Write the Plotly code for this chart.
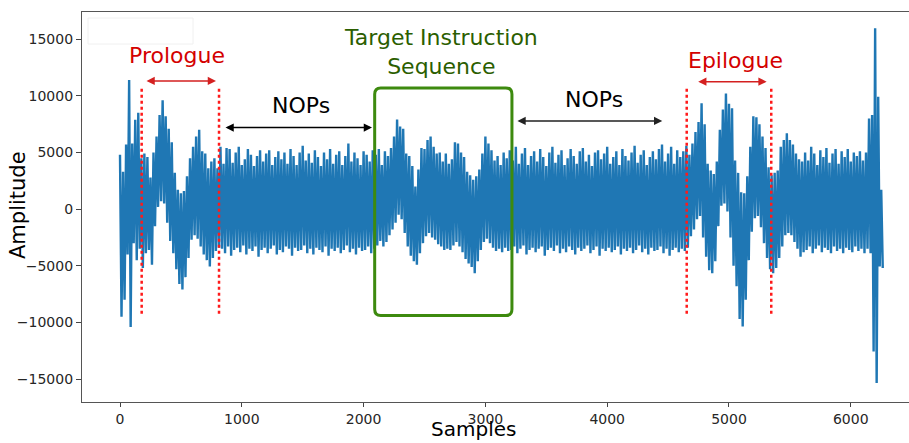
import plotly.graph_objects as go

# ---------------- data ----------------
# The trace is stored as per-bin envelope values, 25 samples per bin:
# "hi" is the upper extreme at the start of the bin, "lo" the lower extreme half a bin later.
BIN = 25

start_hi = [4800, 3300, 5700, 11400, 5800, 7900, 8500, 4500]
start_lo = [-9500, -8000, -4000, -10400, -3000, -4500, -3500, -5200]

prologue_hi = [4900, 4600, 2800, 5000, 6400, 8300, 9600, 8200, 7100, 5900, 3200, 1700, 1400,
               1600, 2900, 4500, 5500, 6400, 7000, 5100, 4900, 3600, 4200, 4500, 3600]
prologue_lo = [-3900, -3600, -4900, -1500, 200, 700, 500, -1200, -2800, -3900, -5300, -6600, -7100,
               -6000, -4300, -2700, -2300, -2600, -3300, -4000, -4500, -5060, -4300, -3700, -3400]

nops1_hi = [5500, 4000, 5400, 5300, 4100, 5000, 5500, 3900, 4400, 5300,
            4800, 3800, 4700, 5200, 4200, 4900, 5200, 3900, 4600, 5100,
            4400, 5000, 4000, 5300, 4700, 3900, 5000, 5600, 4300, 4900,
            4100, 5200, 4600, 3800, 5000, 4400, 5300, 4000, 4800, 5100,
            3900, 4700, 5800, 4200, 5000, 4500, 3900, 5100, 4800, 4200,
            5200]
nops1_lo = [-3500, -3900, -3300, -4100, -3600, -3400, -3800, -3200, -4000, -3500,
            -3700, -3300, -4200, -3600, -3400, -3900, -3500, -3200, -4000, -3600,
            -3800, -3300, -3500, -4100, -3400, -3700, -3600, -3200, -3900, -3500,
            -4000, -3400, -3600, -3800, -3300, -4100, -3500, -3700, -3400, -3900,
            -3600, -3200, -3800, -3500, -4000, -3400, -3700, -3600, -3300, -3900,
            -3500]

target_hi = [4800, 5300, 3900, 5100, 4700, 5400, 6400, 7900, 7300, 7100,
             4900, 4700, 3800, 2000, 3500, 5400, 5300, 6100, 6400, 5500,
             4900, 5000, 4200, 4900, 4000, 4400, 5900, 5800, 5000, 4600,
             3300, 3000, 2600, 2900, 3500, 4900, 6400, 5800, 5200, 4300,
             4700, 3900, 5000, 4500]
target_lo = [-3200, -2800, -3300, -2900, -2300, -1800, -1200, -500, -900, -2100,
             -3300, -4100, -4600, -4900, -3900, -3000, -2400, -2100, -2500, -2700,
             -3100, -3300, -3600, -3500, -3600, -3200, -2900, -3300, -3800, -4400,
             -4800, -5100, -5650, -4600, -3600, -2900, -2600, -3000, -3400, -3700,
             -3500, -3800, -3400, -3700]

nops2_hi = [5200, 4300, 5500, 4000, 4900, 5400, 3900, 4700, 5100, 4200,
            5300, 4600, 3800, 5000, 5500, 4100, 4800, 5200, 3900, 4500,
            5300, 4700, 4000, 5100, 5400, 4200, 4800, 3800, 5000, 5200,
            4400, 4900, 5500, 4000, 4600, 5100, 3900, 5300, 4700, 4300,
            5000, 5600, 4100, 4800, 5200, 3900, 4600, 5100, 4400, 5300,
            5700, 4200, 4900, 5500, 4000, 5200, 4600, 5100]
nops2_lo = [-3600, -3300, -3900, -3500, -3200, -4000, -3600, -3400, -3800, -3500,
            -3300, -4100, -3600, -3400, -3700, -3200, -3900, -3500, -3800, -3300,
            -3600, -4000, -3400, -3700, -3500, -3200, -3900, -3600, -3300, -4100,
            -3500, -3700, -3400, -3800, -3600, -3300, -4000, -3500, -3700, -3400,
            -3900, -3600, -3200, -3800, -3500, -4000, -3400, -3700, -3600, -3300,
            -3900, -3500, -4100, -3600, -3400, -3800, -3500, -3700]

epilogue_hi = [5600, 4800, 5800, 6800, 7700, 9350, 7500, 4000, 3400, 3100,
               4200, 7000, 8800, 10200, 9300, 8900, 4300, 3200, 1500, 1400,
               2900, 5500, 8200, 8100, 7500, 6400, 5400, 3700]
epilogue_lo = [-3400, -2400, -1800, -900, -600, -2500, -4200, -5400, -5650, -4600,
               -1500, 300, 500, -200, -2500, -5000, -6800, -9700, -10350, -8000,
               -4500, -2000, -800, -600, -1600, -3000, -4300, -5300]

tail_hi = [3000, 3200, 3400, 5500, 6100, 6700, 6100, 5700, 4900, 4400,
           4200, 5000, 4300, 5500, 4900, 3900, 5200, 4600, 5400, 4100,
           4900, 5300, 4000, 5100, 4600, 5300, 4200, 5000, 4700, 5100,
           4300]
tail_lo = [-5650, -5200, -4300, -3300, -2300, -2100, -2300, -2900, -3500, -4200,
           -3800, -3600, -3300, -3900, -3500, -3200, -3800, -3400, -3600, -3900,
           -3300, -3700, -3500, -3900, -3400, -3600, -3800, -3300, -3700, -3500,
           -3900]

end_hi = [5000, 8000, 8300, 15960, 9930, 1700]
end_lo = [-3500, -3900, -12560, -15350, -5060, -5200]

x_ticks = [0, 1000, 2000, 3000, 4000, 5000, 6000]
y_ticks = [-15000, -10000, -5000, 0, 5000, 10000, 15000]

# annotation anchor values (data units)
prologue_bounds = [178, 813]
epilogue_bounds = [4653, 5347]
target_box = [2091, 3218, -9384, 10700]

# ---------------- build trace ----------------
hi = start_hi + prologue_hi + nops1_hi + target_hi + nops2_hi + epilogue_hi + tail_hi + end_hi
lo = start_lo + prologue_lo + nops1_lo + target_lo + nops2_lo + epilogue_lo + tail_lo + end_lo

xs, ys = [], []
for i, (h, l) in enumerate(zip(hi, lo)):
    xs += [i * BIN, i * BIN + BIN / 2]
    ys += [h, l]

fig = go.Figure()
fig.add_trace(go.Scatter(x=xs, y=ys, mode="lines",
                         line=dict(color="#1f77b4", width=2.4), hoverinfo="skip"))

FONT = "DejaVu Sans"
RED_TXT = "#d40000"
RED_LINE = "#ff1a1a"
GREEN_TXT = "#2b5e00"
GREEN_BOX = "#3d8a0e"

shapes = []
# faint legend remnant
shapes.append(dict(type="rect", xref="paper", yref="paper",
                   x0=(88 - 82) / 827, x1=(193 - 82) / 827,
                   y0=(402 - 44) / 390, y1=(402 - 18) / 390,
                   line=dict(color="#f0f0f0", width=1), fillcolor="rgba(0,0,0,0)"))
for xb in prologue_bounds + epilogue_bounds:
    shapes.append(dict(type="line", xref="x", yref="y", x0=xb, x1=xb, y0=-9235, y1=10700,
                       line=dict(color=RED_LINE, width=2.5, dash="dot")))

x0, x1, y0, y1 = target_box
rx, ry = 50, 560
path = (f"M {x0+rx},{y1} L {x1-rx},{y1} Q {x1},{y1} {x1},{y1-ry} "
        f"L {x1},{y0+ry} Q {x1},{y0} {x1-rx},{y0} L {x0+rx},{y0} "
        f"Q {x0},{y0} {x0},{y0+ry} L {x0},{y1-ry} Q {x0},{y1} {x0+rx},{y1} Z")
shapes.append(dict(type="path", xref="x", yref="y", path=path,
                   line=dict(color=GREEN_BOX, width=3)))

ann = []
def text(x, y, t, color):
    ann.append(dict(x=x, y=y, xref="x", yref="y", text=t, showarrow=False,
                    font=dict(family=FONT, size=22, color=color),
                    xanchor="center", yanchor="middle"))

def arrow(xa, xb, y, color):
    ann.append(dict(x=xb, y=y, ax=xa, ay=y, xref="x", yref="y", axref="x", ayref="y",
                    text="", showarrow=True, arrowhead=2, startarrowhead=2,
                    arrowside="end+start", arrowsize=1.1, startarrowsize=1.1,
                    arrowwidth=1.5, arrowcolor=color))

text(468, 13600, "Prologue", RED_TXT)
arrow(205, 788, 11316, "#d42020")
text(1485, 9114, "NOPs", "black")
arrow(854, 2069, 7200, "black")
text(2635, 13900, "Target Instruction<br>Sequence", GREEN_TXT)
text(3888, 9640, "NOPs", "black")
arrow(3251, 4452, 7790, "#222222")
text(5055, 13100, "Epilogue", RED_TXT)
arrow(4735, 5309, 11250, "#d42020")

# axis titles
ann.append(dict(x=2906, y=-(429 - 402) / 390, xref="x", yref="paper", text="Samples",
                showarrow=False, font=dict(family=FONT, size=20, color="black"),
                xanchor="center", yanchor="middle"))
ann.append(dict(x=(18 - 82) / 827, y=(402 - 205) / 390, xref="paper", yref="paper",
                text="Amplitude", textangle=-90, showarrow=False,
                font=dict(family=FONT, size=21, color="black"),
                xanchor="center", yanchor="middle"))

fig.update_layout(
    width=909, height=443,
    margin=dict(l=82, r=0, t=12, b=41),
    paper_bgcolor="white", plot_bgcolor="white",
    showlegend=False,
    font=dict(family=FONT, size=14, color="#262626"),
    shapes=shapes, annotations=ann,
    xaxis=dict(range=[-312, 6478], tickvals=x_ticks, ticks="outside", ticklen=4,
               tickwidth=1, tickcolor="#444", showline=True, linecolor="#555",
               linewidth=1.2, mirror=True, showgrid=False, zeroline=False,
               tickfont=dict(size=14)),
    yaxis=dict(range=[-17020, 17400], tickvals=y_ticks, ticks="outside", ticklen=5,
               tickwidth=1, tickcolor="#444", showline=True, linecolor="#555",
               linewidth=1.2, mirror=False, showgrid=False, zeroline=False,
               tickfont=dict(size=14), tickformat="d"),
)

fig.write_html("out.html")
